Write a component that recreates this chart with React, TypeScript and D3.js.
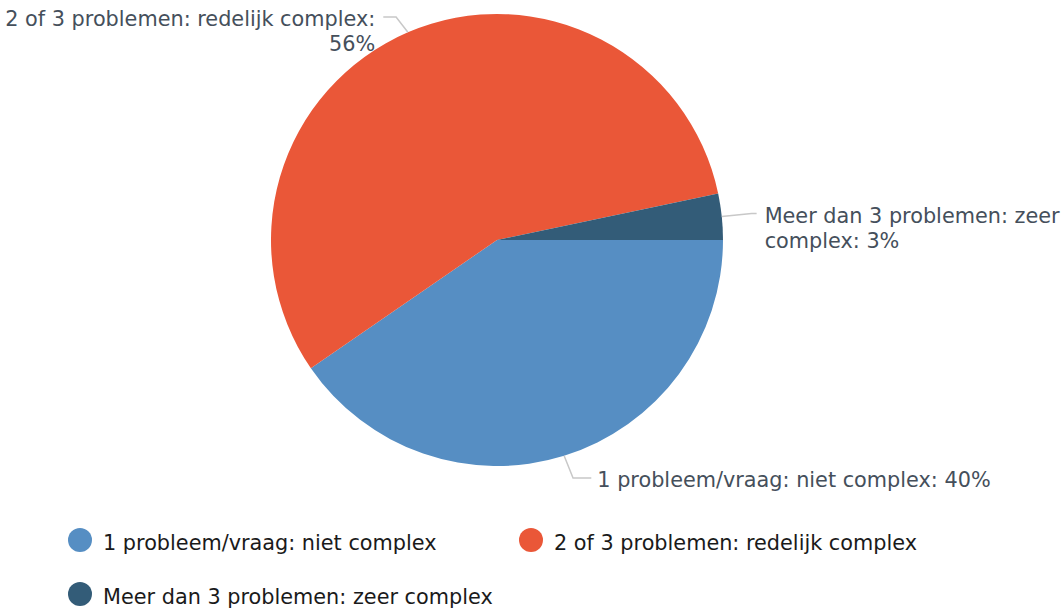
import React from "react";
import * as d3 from "d3";

const categories = [
  "1 probleem/vraag: niet complex",
  "2 of 3 problemen: redelijk complex",
  "Meer dan 3 problemen: zeer complex",
];
const values = [40.4, 56.3, 3.3];
const labelLines = [
  ["1 probleem/vraag: niet complex: 40%"],
  ["2 of 3 problemen: redelijk complex:", "56%"],
  ["Meer dan 3 problemen: zeer", "complex: 3%"],
];
const colors = ["#568ec3", "#ea5738", "#335c78"];

// label layout tweaks (not data)
const labelNudge = [0, 12, 5];
const textGap = [6, 8, 8];

const W = 1061;
const H = 610;
const cx = 497;
const cy = 240;
const R = 226;
const DIST = 30;
const FONT = "'DejaVu Sans', sans-serif";

export default function App() {
  const pie = d3
    .pie<number>()
    .sort(null)
    .startAngle(Math.PI / 2)
    .endAngle(Math.PI / 2 + 2 * Math.PI)(values);
  const arc = d3.arc<d3.PieArcDatum<number>>().innerRadius(0).outerRadius(R);

  return (
    <svg
      width={W}
      height={H}
      style={{ position: "absolute", left: 0, top: 0, fontFamily: FONT }}
    >
      <rect width={W} height={H} fill="#fff" />
      <g transform={`translate(${cx},${cy})`}>
        {pie.map((p, i) => (
          <path key={i} d={arc(p) || ""} fill={colors[i]} />
        ))}
      </g>
      {pie.map((p, i) => {
        const mid = (p.startAngle + p.endAngle) / 2;
        const ex = cx + R * Math.sin(mid);
        const ey = cy - R * Math.cos(mid);
        const bx = cx + (R + DIST) * Math.sin(mid);
        let by = cy - (R + DIST) * Math.cos(mid);
        by = Math.max(17, Math.min(478, by));
        const right = Math.sin(mid) >= 0;
        const dy = by - cy;
        const rr = R + DIST;
        const circX = Math.sqrt(Math.max(0, rr * rr - dy * dy));
        const hx = cx + (right ? circX : -circX) + labelNudge[i];
        const tx = right ? hx + textGap[i] : hx - textGap[i];
        return (
          <g key={"l" + i}>
            <path
              d={`M${ex},${ey}L${bx},${by}L${hx},${by}`}
              fill="none"
              stroke="#c8c8c8"
              strokeWidth={1.5}
            />
            <text
              x={tx}
              y={by + 9}
              fill="#454f5b"
              fontSize={20.8}
              textAnchor={right ? "start" : "end"}
            >
              {labelLines[i].map((ln, j) => (
                <tspan key={j} x={tx} dy={j === 0 ? 0 : 25}>
                  {ln}
                </tspan>
              ))}
            </text>
          </g>
        );
      })}
      {categories.map((c, i) => {
        const col = i % 2;
        const row = Math.floor(i / 2);
        const x = 80 + col * 451;
        const y = 540 + row * 54;
        return (
          <g key={"lg" + i}>
            <circle cx={x} cy={y} r={12} fill={colors[i]} />
            <text x={x + 23} y={y + 10} fontSize={20.8} fill="#1a1a1a">
              {c}
            </text>
          </g>
        );
      })}
    </svg>
  );
}
